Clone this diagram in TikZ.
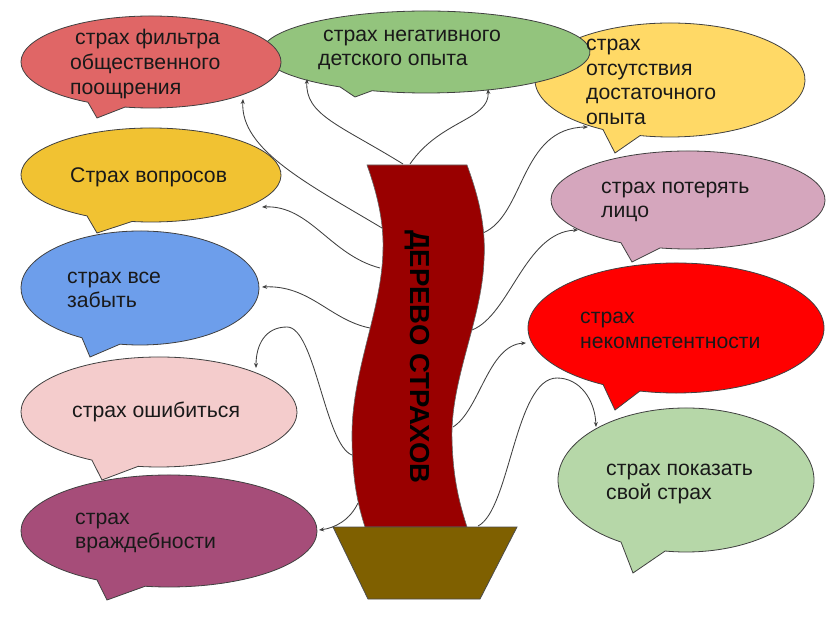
\documentclass[tikz,border=0pt]{standalone}
\usepackage{fontspec}
\setmainfont{Liberation Sans}
\usetikzlibrary{arrows.meta}
\definecolor{cRedA}{HTML}{E06666}
\definecolor{cGreenA}{HTML}{93C47D}
\definecolor{cYellowA}{HTML}{FFD966}
\definecolor{cGold}{HTML}{F1C232}
\definecolor{cBlue}{HTML}{6D9EEB}
\definecolor{cPink}{HTML}{F4CCCC}
\definecolor{cPurple}{HTML}{A64D79}
\definecolor{cMauve}{HTML}{D5A6BD}
\definecolor{cRedB}{HTML}{FF0000}
\definecolor{cGreenB}{HTML}{B6D7A8}
\definecolor{cTrunk}{HTML}{990000}
\definecolor{cPot}{HTML}{7F6000}
\newcommand\mybubble[9]{%
  \filldraw[bubbleline, fill=#9] (#1,#2) ++(#5:#3 and #4)
    arc[start angle=#5, end angle={#6+360}, x radius=#3, y radius=#4]
    -- (#7,#8) -- cycle;}
\begin{document}
\begin{tikzpicture}[x=1pt,y=-1pt,
  bubbleline/.style={draw=black!75, line width=0.8pt},
  lbl/.style={anchor=west, align=left, inner sep=0pt, text=black!90,
    font=\fontsize{21.2}{24.8}\selectfont},
  conn/.style={draw=black!75, line width=0.85pt, -{Stealth[length=5pt,width=4pt]}},
  trunkstyle/.style={fill=cTrunk, draw=black!60, line width=0.6pt},
  potstyle/.style={fill=cPot, draw=black!70, line width=0.8pt}]
\useasboundingbox (0,0) rectangle (838,620);
\fill[white] (0,0) rectangle (838,620);
% bubbles (back to front)
\mybubble{670}{80}{135}{57}{119.8}{102.8}{615}{153}{cYellowA}
\mybubble{426}{52}{164}{41}{121.6}{109.2}{355}{97}{cGreenA}
\mybubble{151}{62}{130}{46}{119}{101.5}{97}{118}{cRedA}
\mybubble{151}{175}{130}{47}{119.5}{98.4}{97}{233}{cGold}
\mybubble{140}{288}{119}{57}{119.2}{99.7}{90}{357}{cBlue}
\mybubble{159}{412}{138}{55}{119.1}{98.7}{102}{480}{cPink}
\mybubble{169}{531}{148}{56}{119.1}{99.3}{107}{600}{cPurple}
\mybubble{688}{200}{137}{49}{119.3}{101.8}{632}{262}{cMauve}
\mybubble{676}{328}{148}{65}{119.5}{104.1}{615}{410}{cRedB}
\mybubble{686}{480}{128}{72}{120.5}{99.4}{633}{573}{cGreenB}
% labels
\node[lbl] (t1) at (70,64) {\hspace{5pt}страх фильтра\\общественного\\поощрения};
\node[lbl] (t2) at (318,50) {\hspace{5pt}страх негативного\\детского опыта};
\node[lbl] (t3) at (586,82) {страх\\отсутствия\\достаточного\\опыта};
\node[lbl] (t4) at (70,177) {Страх вопросов};
\node[lbl] (t5) at (67,290) {страх все\\забыть};
\node[lbl] (t6) at (72,412) {страх ошибиться};
\node[lbl] (t7) at (75,533) {страх\\враждебности};
\node[lbl] (t8) at (601,202) {страх потерять\\лицо};
\node[lbl] (t9) at (580,330) {страх\\некомпетентности};
\node[lbl] (t10) at (606,484) {страх показать\\свой страх};
% connector end points
\coordinate (s1) at (382,228); \coordinate (e1) at (243,99);
\coordinate (s2) at (403,164); \coordinate (e2) at (307,79);
\coordinate (s3) at (410,164); \coordinate (e3) at (488,89);
\coordinate (s4) at (380,268); \coordinate (e4) at (262,207);
\coordinate (s5) at (370,328); \coordinate (e5) at (262,287);
\coordinate (s6) at (352,455); \coordinate (e6) at (256,368);
\coordinate (s7) at (358,503); \coordinate (e7) at (319,530);
\coordinate (s8) at (483,233); \coordinate (e8) at (588,127);
\coordinate (s9) at (472,330); \coordinate (e9) at (578,230);
\coordinate (s10) at (453,427); \coordinate (e10) at (526,343);
\coordinate (s11) at (478,526); \coordinate (e11) at (596,427);
\draw[conn] (s1) .. controls (310,185) and (240,150) .. (e1);
\draw[conn] (s2) .. controls (340,125) and (305,115) .. (e2);
\draw[conn] (s3) .. controls (440,120) and (490,120) .. (e3);
\draw[conn] (s4) .. controls (330,255) and (310,205) .. (e4);
\draw[conn] (s5) .. controls (330,320) and (310,285) .. (e5);
\draw[conn] (s6) .. controls (325,445) and (315,327) .. (287,327) .. controls (265,327) and (256,345) .. (e6);
\draw[conn] (s7) .. controls (350,520) and (335,528) .. (e7);
\draw[conn] (s8) .. controls (525,215) and (520,128) .. (e8);
\draw[conn] (s9) .. controls (510,315) and (525,232) .. (e9);
\draw[conn] (s10) .. controls (480,410) and (488,345) .. (e10);
\draw[conn] (s11) .. controls (510,510) and (515,378) .. (557,378) .. controls (580,378) and (595,400) .. (e11);
% trunk
\filldraw[trunkstyle] (367,165) -- (467,165)
  .. controls (478,195) and (486,225) .. (484,260)
  .. controls (482,320) and (450,380) .. (452,440)
  .. controls (453,480) and (460,505) .. (467,527)
  -- (365,527)
  .. controls (358,505) and (352,480) .. (352,435)
  .. controls (352,370) and (382,310) .. (383,250)
  .. controls (384,220) and (376,190) .. cycle;
% pot
\filldraw[potstyle] (333,527) -- (517,527) -- (480,599) -- (368,599) -- cycle;
\node[rotate=-90, inner sep=0pt, font=\bfseries\fontsize{27.5}{30}\selectfont] (trunk) at (417,357) {ДЕРЕВО СТРАХОВ};
\end{tikzpicture}
\end{document}
